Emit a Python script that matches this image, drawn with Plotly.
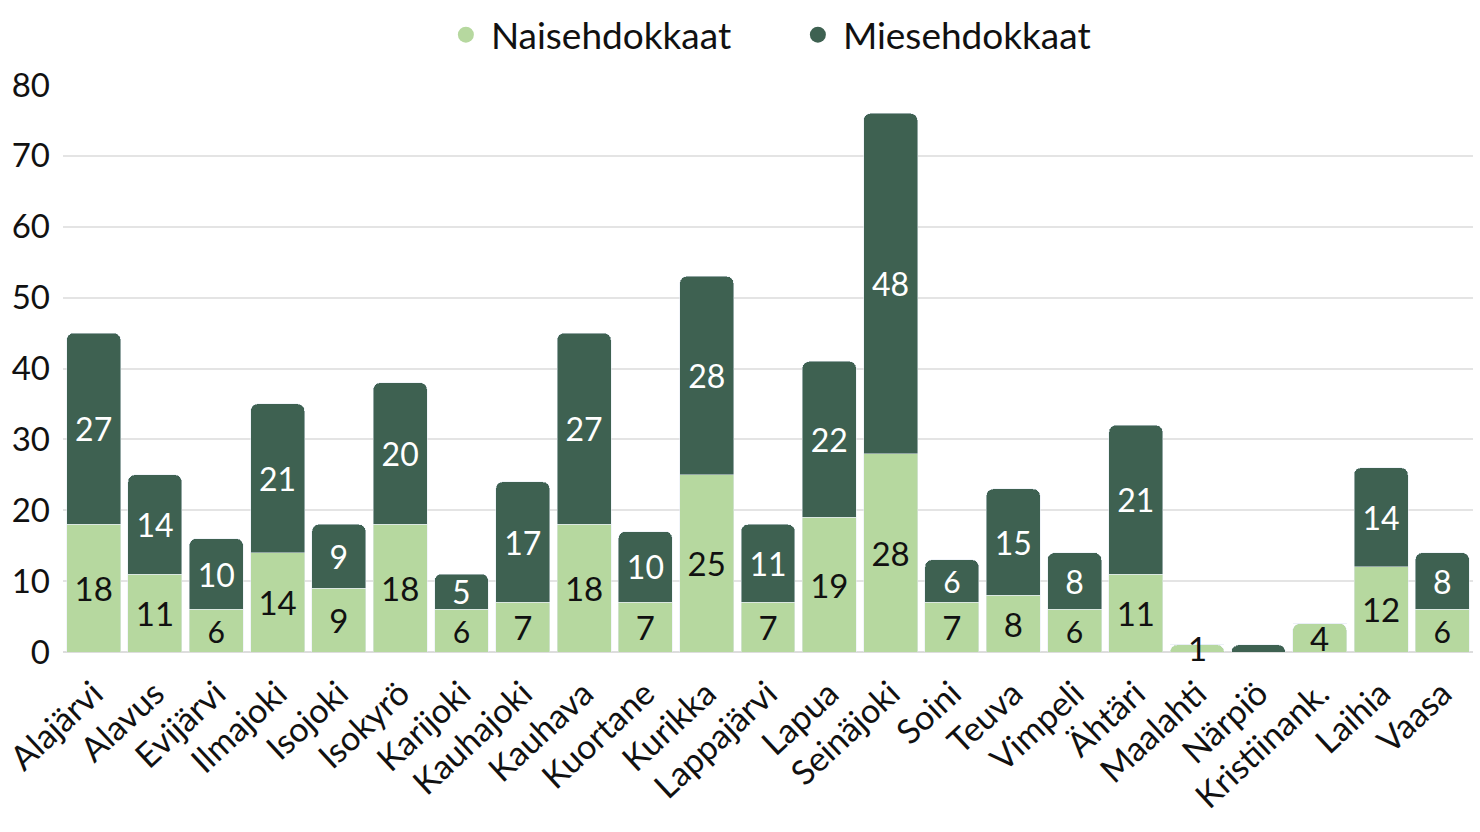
import plotly.graph_objects as go

kunnat = ["Alajärvi", "Alavus", "Evijärvi", "Ilmajoki", "Isojoki", "Isokyrö", "Karijoki",
          "Kauhajoki", "Kauhava", "Kuortane", "Kurikka", "Lappajärvi", "Lapua", "Seinäjoki",
          "Soini", "Teuva", "Vimpeli", "Ähtäri", "Maalahti", "Närpiö", "Kristiinank.",
          "Laihia", "Vaasa"]
naiset = [18, 11, 6, 14, 9, 18, 6, 7, 18, 7, 25, 7, 19, 28, 7, 8, 6, 11, 1, 0, 4, 12, 6]
miehet = [27, 14, 10, 21, 9, 20, 5, 17, 27, 10, 28, 11, 22, 48, 6, 15, 8, 21, 0, 1, 0, 14, 8]

LIGHT = "#b6d89f"
DARK = "#3e6151"
FONT = "Lato, Open Sans, sans-serif"
SMALL = 5  # segments this small get their label as an annotation (not shrunk)

fig = go.Figure()
fig.add_trace(go.Bar(
    x=kunnat, y=naiset, name="Naisehdokkaat", marker_color=LIGHT, showlegend=False,
    text=[str(v) if v > SMALL else "" for v in naiset], textposition="inside",
    insidetextanchor="middle", textangle=0,
    textfont=dict(color="#111111", size=33, family=FONT),
))
fig.add_trace(go.Bar(
    x=kunnat, y=miehet, name="Miesehdokkaat", marker_color=DARK, showlegend=False,
    text=[str(v) if v > SMALL else "" for v in miehet], textposition="inside",
    insidetextanchor="middle", textangle=0,
    textfont=dict(color="#ffffff", size=32, family=FONT),
))
# labels for small segments, placed at the segment middle
for k, n, m in zip(kunnat, naiset, miehet):
    if 0 < n <= SMALL:
        fig.add_annotation(x=k, y=n / 2, text=str(n), showarrow=False,
                           font=dict(color="#111111", size=33, family=FONT))
    if 1 < m <= SMALL:
        fig.add_annotation(x=k, y=n + m / 2, text=str(m), showarrow=False,
                           font=dict(color="#ffffff", size=32, family=FONT))

# legend entries with circular markers
for nm, col in [("Naisehdokkaat", LIGHT), ("Miesehdokkaat", DARK)]:
    fig.add_trace(go.Scatter(x=[None], y=[None], mode="markers", name=nm,
                             marker=dict(color=col, size=16, symbol="circle")))

fig.update_layout(
    barmode="stack",
    bargap=0.12,
    barcornerradius=7,
    width=1480, height=832,
    plot_bgcolor="white", paper_bgcolor="white",
    margin=dict(l=63, r=7, t=85, b=180),
    font=dict(family=FONT, size=30, color="#111111"),
    legend=dict(orientation="h", x=0.268, xanchor="left", y=0.995, yanchor="top",
                yref="container", font=dict(size=37), itemsizing="trace",
                traceorder="normal", itemwidth=40, entrywidth=297),
)
fig.update_yaxes(range=[0, 80], dtick=10, showgrid=True, gridcolor="#e4e4e4", gridwidth=1.5,
                 zeroline=True, zerolinecolor="#dddddd", ticklabelstandoff=12,
                 tickfont=dict(size=33), automargin=False)
fig.update_xaxes(tickangle=-43, tickfont=dict(size=34), showline=False, automargin=False,
                 ticklabelstandoff=14)

fig.write_html("out.html", config={"displayModeBar": False},
               post_script="document.body.style.margin='0';")
